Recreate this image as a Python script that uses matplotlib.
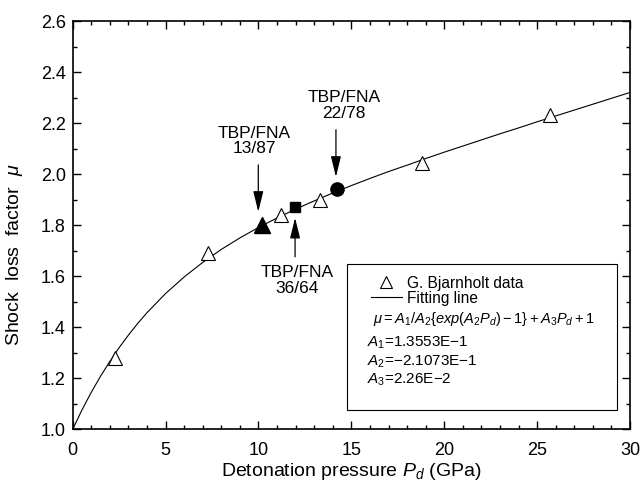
import matplotlib
matplotlib.use("Agg")
import matplotlib.pyplot as plt
from matplotlib.patches import Rectangle
from matplotlib.lines import Line2D
from matplotlib.ticker import MultipleLocator

plt.rcParams['font.family'] = ['Liberation Sans', 'DejaVu Sans']
plt.rcParams['mathtext.fontset'] = 'custom'
plt.rcParams['mathtext.rm'] = 'Liberation Sans'
plt.rcParams['mathtext.it'] = 'Liberation Sans:italic'

# fitting line
fit_p = [0, 0.5, 1, 1.5, 2, 2.5, 3, 3.5, 4, 5, 6, 7, 8, 9, 10, 11, 12, 13, 14, 15,
         16, 17, 18, 19, 20, 21, 22, 23, 24, 25, 26, 27, 28, 29, 30]
fit_mu = [1.000, 1.076, 1.145, 1.208, 1.266, 1.320, 1.369, 1.415, 1.457, 1.532,
          1.597, 1.654, 1.705, 1.750, 1.791, 1.828, 1.863, 1.895, 1.926, 1.955,
          1.983, 2.010, 2.035, 2.061, 2.086, 2.110, 2.134, 2.158, 2.181, 2.205,
          2.228, 2.251, 2.274, 2.297, 2.320]

# G. Bjarnholt data
bj_p = [2.3, 7.3, 11.2, 13.3, 18.8, 25.7]
bj_mu = [1.28, 1.69, 1.84, 1.90, 2.045, 2.23]

# TBP/FNA mixtures
mix_p = [10.2, 11.95, 14.25]
mix_mu = [1.80, 1.87, 1.94]
mix_names = ["TBP/FNA\n13/87", "TBP/FNA\n36/64", "TBP/FNA\n22/78"]

fig = plt.figure(figsize=(6.4, 4.91), dpi=100)
ax = fig.add_axes([0.1136, 0.1257, 0.8708, 0.8315])

ax.plot(fit_p, fit_mu, color='black', lw=0.8)
ax.plot(bj_p, bj_mu, linestyle='none', marker='^', ms=10, mfc='white',
        mec='black', mew=0.8)
ax.plot(mix_p[0], mix_mu[0], marker='^', ms=11, color='black', linestyle='none')
ax.plot(mix_p[1], mix_mu[1], marker='s', ms=7, color='black', linestyle='none')
ax.plot(mix_p[2], mix_mu[2], marker='o', ms=9.5, color='black', linestyle='none')

# labels and arrows for the mixtures
arrow = dict(arrowstyle='-|>,head_length=0.9,head_width=0.22', color='black',
             lw=0.9, shrinkA=0, shrinkB=0, mutation_scale=14)
ax.text(9.77, 2.13, mix_names[0], ha='center', va='center', fontsize=12.5,
        linespacing=1.05)
ax.annotate('', xy=(9.99, 1.852), xytext=(9.99, 2.036), arrowprops=arrow)
ax.text(12.08, 1.582, mix_names[1], ha='center', va='center', fontsize=12.5,
        linespacing=1.05)
ax.annotate('', xy=(11.97, 1.829), xytext=(11.97, 1.676), arrowprops=arrow)
ax.text(14.6, 2.268, mix_names[2], ha='center', va='center', fontsize=12.5,
        linespacing=1.05)
ax.annotate('', xy=(14.17, 1.989), xytext=(14.17, 2.174), arrowprops=arrow)

# legend box
ax.add_patch(Rectangle((0.492, 0.047), 0.485, 0.358, transform=ax.transAxes,
                       fill=False, ec='black', lw=0.8, zorder=5))
handles = [Line2D([], [], linestyle='none', marker='^', ms=8, mfc='white',
                  mec='black', mew=0.8),
           Line2D([], [], color='black', lw=0.8)]
ax.legend(handles, ["G. Bjarnholt data", "Fitting line"], loc='upper left',
          bbox_to_anchor=(0.535, 0.376), frameon=False, fontsize=11.2,
          borderpad=0, handlelength=2.0, handletextpad=0.3, labelspacing=0.0,
          borderaxespad=0)
ax.text(0.538, 0.27, r"$\mu = A_1/A_2\{exp(A_2P_d)-1\}+A_3P_d+1$",
        transform=ax.transAxes, fontsize=10.5, va='center', ha='left')
ax.text(0.528, 0.212, r"$A_1$=1.3553E$-$1", transform=ax.transAxes,
        fontsize=11, va='center', ha='left')
ax.text(0.528, 0.165, r"$A_2$=$-$2.1073E$-$1", transform=ax.transAxes,
        fontsize=11, va='center', ha='left')
ax.text(0.528, 0.12, r"$A_3$=2.26E$-$2", transform=ax.transAxes,
        fontsize=11, va='center', ha='left')

ax.set_xlim(0, 30)
ax.set_ylim(1.0, 2.6)
ax.xaxis.set_major_locator(MultipleLocator(5))
ax.xaxis.set_minor_locator(MultipleLocator(1))
ax.yaxis.set_major_locator(MultipleLocator(0.2))
ax.yaxis.set_minor_locator(MultipleLocator(0.1))
ax.yaxis.set_major_formatter(matplotlib.ticker.FormatStrFormatter('%.1f'))
ax.tick_params(which='both', direction='in', top=True, right=True,
               width=1.0, labelsize=13)
ax.tick_params(which='major', length=6)
ax.tick_params(which='minor', length=3)
ax.tick_params(axis='x', pad=9)
ax.tick_params(axis='y', pad=5)
for s in ax.spines.values():
    s.set_linewidth(1.2)

ax.set_xlabel(r"Detonation pressure $P_d$ (GPa)", fontsize=14)
ax.set_ylabel(r"Shock  loss  factor  $\mu$", fontsize=14)
ax.yaxis.set_label_coords(-0.086, 0.427)
ax.xaxis.set_label_coords(0.5, -0.077)

fig.savefig("out.png", dpi=100)
